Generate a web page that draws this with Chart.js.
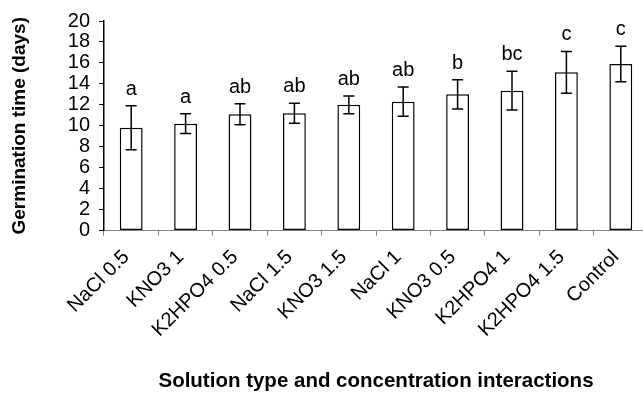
<!DOCTYPE html>
<html>
<head>
<meta charset="utf-8">
<script src="https://cdn.jsdelivr.net/npm/chart.js@4"></script>
<style>
  html, body { margin: 0; padding: 0; background: #fff; overflow: hidden; }
  canvas { display: block; }
</style>
</head>
<body>
<canvas id="germChart" width="652" height="394"></canvas>
<script>
const categories = ['NaCl 0.5', 'KNO3 1', 'K2HPO4 0.5', 'NaCl 1.5', 'KNO3 1.5', 'NaCl 1', 'KNO3 0.5', 'K2HPO4 1', 'K2HPO4 1.5', 'Control'];
const meanDays = [9.8, 10.2, 11.1, 11.2, 12.0, 12.3, 13.0, 13.35, 15.1, 15.9];
const errDays = [2.1, 0.95, 1.0, 0.95, 0.85, 1.4, 1.4, 1.85, 2.0, 1.7];
const letters = ['a', 'a', 'ab', 'ab', 'ab', 'ab', 'b', 'bc', 'c', 'c'];
const yTicks = [0, 2, 4, 6, 8, 10, 12, 14, 16, 18, 20];

const FONT = "'Liberation Sans', Arial, sans-serif";

// error bars + significance letters
const errorBarPlugin = {
  id: 'errorBars',
  afterDatasetsDraw(chart) {
    const { ctx } = chart;
    const y = chart.scales.y;
    const meta = chart.getDatasetMeta(0);
    ctx.save();
    ctx.strokeStyle = '#000';
    ctx.lineWidth = 1.5;
    ctx.fillStyle = '#000';
    ctx.font = '20px ' + FONT;
    ctx.textAlign = 'center';
    ctx.textBaseline = 'alphabetic';
    meta.data.forEach((bar, i) => {
      const x = bar.x;
      const top = y.getPixelForValue(meanDays[i] + errDays[i]);
      const bot = y.getPixelForValue(meanDays[i] - errDays[i]);
      ctx.beginPath();
      ctx.moveTo(x, top);
      ctx.lineTo(x, bot);
      ctx.moveTo(x - 5.5, top);
      ctx.lineTo(x + 5.5, top);
      ctx.moveTo(x - 5.5, bot);
      ctx.lineTo(x + 5.5, bot);
      ctx.stroke();
      ctx.fillText(letters[i], x, top - 11);
    });
    ctx.restore();
  }
};

new Chart(document.getElementById('germChart'), {
  type: 'bar',
  data: {
    labels: categories,
    datasets: [{
      data: meanDays,
      backgroundColor: '#ffffff',
      borderColor: '#000000',
      borderWidth: 1.5,
      borderSkipped: false,
      barPercentage: 0.42,
      categoryPercentage: 1
    }]
  },
  options: {
    responsive: false,
    animation: false,
    layout: { padding: { top: 20, right: 4, bottom: 0, left: 0 } },
    plugins: {
      legend: { display: false },
      tooltip: { enabled: false }
    },
    scales: {
      x: {
        afterFit(scale) { scale.height = 163.5; },
        border: { color: '#808080', width: 1 },
        grid: { drawOnChartArea: false, drawTicks: true, tickLength: 5, color: '#808080', offset: true },
        ticks: {
          color: '#000',
          font: { family: FONT, size: 20 },
          minRotation: 45,
          maxRotation: 45,
          autoSkip: false,
          labelOffset: -5,
          padding: 10
        },
        title: {
          display: true,
          text: 'Solution type and concentration interactions',
          color: '#000',
          font: { family: FONT, size: 20.5, weight: 'bold' },
          padding: { top: 0, bottom: 0 }
        }
      },
      y: {
        min: 0,
        max: 20,
        afterFit(scale) { scale.width = 104; },
        afterBuildTicks(scale) { scale.ticks = yTicks.map(v => ({ value: v })); },
        border: { color: '#000', width: 1.5 },
        grid: { drawOnChartArea: false, drawTicks: true, tickLength: 5, color: '#000' },
        ticks: {
          color: '#000',
          font: { family: FONT, size: 20 },
          autoSkip: false,
          padding: 9
        },
        title: {
          display: true,
          text: 'Germination time (days)',
          color: '#000',
          font: { family: FONT, size: 19, weight: 'bold' },
          padding: { top: 8, bottom: 0 }
        }
      }
    }
  },
  plugins: [errorBarPlugin]
});
</script>
</body>
</html>
